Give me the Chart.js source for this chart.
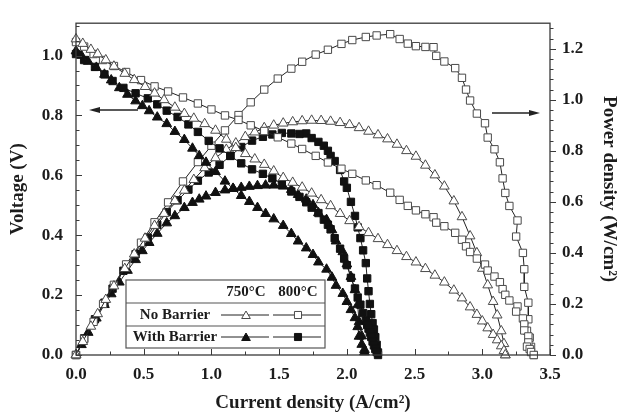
<!DOCTYPE html>
<html>
<head>
<meta charset="utf-8">
<title>Voltage and power density</title>
<script src="https://cdn.jsdelivr.net/npm/chart.js@4.4.0/dist/chart.umd.min.js"></script>
<style>
  html, body { margin: 0; padding: 0; background: #fff; }
  #wrap { width: 624px; height: 414px; }
</style>
</head>
<body>
<div id="wrap"><canvas id="chart" width="624" height="414"></canvas></div>
<script>
// Current density (A/cm2), voltage (V) and power density (W/cm2) per cell
const currentNB750 = [0, 0.05, 0.11, 0.16, 0.22, 0.28, 0.36, 0.43, 0.51, 0.58, 0.65, 0.73, 0.80, 0.87, 0.95, 1.03, 1.11, 1.18, 1.25, 1.32, 1.39, 1.46, 1.53, 1.60, 1.67, 1.74, 1.81, 1.88, 1.95, 2.02, 2.09, 2.16, 2.23, 2.30, 2.37, 2.44, 2.51, 2.58, 2.65, 2.72, 2.79, 2.85, 2.91, 2.96, 3.00, 3.04, 3.08, 3.11, 3.14, 3.16, 3.17];
const voltageNB750 = [1.055, 1.04, 1.02, 1.005, 0.985, 0.964, 0.94, 0.919, 0.896, 0.874, 0.852, 0.827, 0.806, 0.79, 0.772, 0.75, 0.72, 0.692, 0.672, 0.654, 0.636, 0.614, 0.592, 0.576, 0.56, 0.54, 0.518, 0.498, 0.472, 0.448, 0.428, 0.408, 0.388, 0.368, 0.348, 0.328, 0.31, 0.288, 0.266, 0.243, 0.216, 0.19, 0.16, 0.135, 0.113, 0.09, 0.068, 0.05, 0.03, 0.014, 0];
const powerNB750 = [0, 0.052, 0.112, 0.161, 0.217, 0.27, 0.338, 0.395, 0.457, 0.507, 0.554, 0.604, 0.645, 0.687, 0.733, 0.772, 0.805, 0.83, 0.855, 0.873, 0.89, 0.9, 0.908, 0.913, 0.917, 0.919, 0.918, 0.915, 0.91, 0.902, 0.89, 0.876, 0.862, 0.846, 0.825, 0.8, 0.778, 0.743, 0.705, 0.661, 0.603, 0.541, 0.466, 0.4, 0.339, 0.274, 0.209, 0.156, 0.094, 0.044, 0];

const currentNB800 = [0, 0.06, 0.13, 0.20, 0.28, 0.37, 0.48, 0.58, 0.68, 0.79, 0.90, 1.00, 1.10, 1.20, 1.29, 1.39, 1.49, 1.59, 1.67, 1.77, 1.86, 1.96, 2.04, 2.14, 2.22, 2.32, 2.39, 2.45, 2.51, 2.58, 2.64, 2.66, 2.72, 2.80, 2.85, 2.88, 2.91, 2.96, 3.02, 3.04, 3.09, 3.13, 3.15, 3.17, 3.20, 3.26, 3.25, 3.30, 3.31, 3.31, 3.34, 3.34, 3.33, 3.35, 3.36, 3.38];
const voltageNB800 = [1.045, 1.03, 1.005, 0.985, 0.965, 0.945, 0.918, 0.897, 0.88, 0.86, 0.84, 0.82, 0.80, 0.785, 0.767, 0.748, 0.727, 0.706, 0.688, 0.665, 0.643, 0.622, 0.605, 0.583, 0.567, 0.542, 0.518, 0.498, 0.483, 0.47, 0.46, 0.442, 0.43, 0.408, 0.385, 0.363, 0.344, 0.322, 0.302, 0.282, 0.262, 0.243, 0.22, 0.201, 0.182, 0.162, 0.145, 0.122, 0.102, 0.082, 0.062, 0.042, 0.028, 0.02, 0.01, 0];
const powerNB800 = [0, 0.062, 0.13, 0.2, 0.275, 0.355, 0.44, 0.52, 0.598, 0.68, 0.756, 0.82, 0.88, 0.94, 0.99, 1.04, 1.083, 1.122, 1.149, 1.177, 1.196, 1.219, 1.234, 1.246, 1.252, 1.257, 1.238, 1.22, 1.21, 1.207, 1.206, 1.172, 1.15, 1.124, 1.086, 1.04, 0.997, 0.946, 0.908, 0.852, 0.806, 0.755, 0.692, 0.635, 0.584, 0.527, 0.464, 0.40, 0.336, 0.267, 0.205, 0.14, 0.095, 0.068, 0.032, 0];

const currentWB750 = [0, 0.04, 0.09, 0.15, 0.21, 0.26, 0.32, 0.38, 0.44, 0.49, 0.54, 0.60, 0.67, 0.73, 0.80, 0.86, 0.91, 0.96, 1.03, 1.10, 1.16, 1.22, 1.28, 1.34, 1.40, 1.46, 1.53, 1.59, 1.64, 1.70, 1.75, 1.79, 1.85, 1.89, 1.92, 1.97, 2.00, 2.03, 2.06, 2.08, 2.09, 2.11, 2.13];
const voltageWB750 = [1.015, 1.0, 0.98, 0.96, 0.937, 0.918, 0.892, 0.87, 0.848, 0.832, 0.815, 0.794, 0.772, 0.746, 0.719, 0.69, 0.665, 0.643, 0.612, 0.58, 0.556, 0.532, 0.512, 0.492, 0.472, 0.454, 0.432, 0.405, 0.38, 0.357, 0.335, 0.31, 0.286, 0.259, 0.232, 0.205, 0.178, 0.151, 0.124, 0.094, 0.062, 0.035, 0.01];
const powerWB750 = [0, 0.04, 0.088, 0.144, 0.197, 0.239, 0.285, 0.331, 0.373, 0.408, 0.44, 0.476, 0.517, 0.545, 0.577, 0.597, 0.61, 0.622, 0.636, 0.646, 0.652, 0.656, 0.66, 0.663, 0.665, 0.665, 0.661, 0.648, 0.628, 0.61, 0.588, 0.557, 0.53, 0.49, 0.446, 0.404, 0.356, 0.307, 0.255, 0.196, 0.13, 0.074, 0.021];

const currentWB800 = [0, 0.06, 0.14, 0.21, 0.27, 0.35, 0.44, 0.53, 0.60, 0.67, 0.75, 0.83, 0.90, 0.98, 1.06, 1.14, 1.22, 1.30, 1.38, 1.45, 1.52, 1.59, 1.65, 1.70, 1.74, 1.79, 1.83, 1.86, 1.88, 1.91, 1.95, 1.98, 2.00, 2.03, 2.06, 2.08, 2.10, 2.12, 2.14, 2.15, 2.16, 2.17, 2.18, 2.19, 2.20, 2.21, 2.22, 2.23];
const voltageWB800 = [1.005, 0.985, 0.962, 0.937, 0.915, 0.892, 0.874, 0.857, 0.837, 0.816, 0.795, 0.77, 0.745, 0.715, 0.69, 0.665, 0.64, 0.62, 0.605, 0.59, 0.572, 0.546, 0.528, 0.51, 0.492, 0.474, 0.452, 0.435, 0.42, 0.39, 0.355, 0.322, 0.30, 0.258, 0.222, 0.192, 0.168, 0.14, 0.115, 0.10, 0.088, 0.075, 0.06, 0.045, 0.032, 0.02, 0.01, 0];
const powerWB800 = [0, 0.065, 0.14, 0.205, 0.26, 0.33, 0.395, 0.46, 0.51, 0.56, 0.606, 0.648, 0.683, 0.715, 0.745, 0.78, 0.815, 0.84, 0.855, 0.864, 0.87, 0.868, 0.866, 0.868, 0.85, 0.835, 0.82, 0.8, 0.78, 0.76, 0.725, 0.68, 0.655, 0.6, 0.545, 0.5, 0.458, 0.41, 0.36, 0.3, 0.25, 0.2, 0.16, 0.125, 0.1, 0.07, 0.04, 0.01];

// Tick labels
const currentTicks = [0, 0.5, 1.0, 1.5, 2.0, 2.5, 3.0, 3.5];
const voltageTicks = [0, 0.2, 0.4, 0.6, 0.8, 1.0];
const powerTicks = [0, 0.2, 0.4, 0.6, 0.8, 1.0, 1.2];

const legendRows = ['No Barrier', 'With Barrier'];
const legendCols = ['750°C', '800°C'];

const serif = "'Liberation Serif', 'Times New Roman', serif";
const ink = '#1c1c1c';
const tickFont = { family: serif, size: 17, weight: 'bold' };
const titleFont = { family: serif, size: 19, weight: 'bold' };

function pts(xs, ys) {
    return xs.map((x, i) => ({ x: x, y: ys[i] }));
}

function series(label, xs, ys, axis, shape, filled) {
    return {
        label: label,
        data: pts(xs, ys),
        yAxisID: axis,
        showLine: true,
        tension: 0,
        borderColor: '#222',
        borderWidth: 1,
        pointStyle: shape,
        pointRadius: shape === 'triangle' ? 5.6 : 5.2,
        pointBorderWidth: 1,
        pointBorderColor: filled ? '#111' : '#4a4a4a',
        pointBackgroundColor: filled ? '#111' : '#fff',
        clip: false
    };
}

function drawShape(ctx, shape, x, y, r, filled) {
    ctx.beginPath();
    if (shape === 'triangle') {
        ctx.moveTo(x, y - r);
        ctx.lineTo(x + r * 0.866, y + r / 2);
        ctx.lineTo(x - r * 0.866, y + r / 2);
        ctx.closePath();
    } else {
        const s = r * Math.SQRT1_2;
        ctx.rect(x - s, y - s, 2 * s, 2 * s);
    }
    ctx.fillStyle = filled ? '#111' : '#fff';
    ctx.fill();
    ctx.strokeStyle = filled ? '#111' : '#4a4a4a';
    ctx.lineWidth = 1;
    ctx.stroke();
}

function drawArrow(ctx, x1, x2, y) {
    const dir = Math.sign(x2 - x1);
    ctx.beginPath();
    ctx.moveTo(x1, y);
    ctx.lineTo(x2 - dir * 8, y);
    ctx.strokeStyle = '#222';
    ctx.lineWidth = 1.6;
    ctx.stroke();
    ctx.beginPath();
    ctx.moveTo(x2, y);
    ctx.lineTo(x2 - dir * 11, y - 3);
    ctx.lineTo(x2 - dir * 11, y + 3);
    ctx.closePath();
    ctx.fillStyle = '#222';
    ctx.fill();
}

const decorPlugin = {
    id: 'decor',
    afterDatasetsDraw(chart) {
        const ctx = chart.ctx;
        const a = chart.chartArea;
        const sx = chart.scales.x, sy = chart.scales.y, sp = chart.scales.y1;
        ctx.save();

        // frame
        ctx.strokeStyle = '#3a3a3a';
        ctx.lineWidth = 1.3;
        ctx.strokeRect(a.left, a.top, a.right - a.left, a.bottom - a.top);

        // tick marks: left and bottom point in, right points out
        ctx.lineWidth = 1;
        ctx.beginPath();
        for (let k = 0; k * 0.05 <= sy.max + 1e-9; k++) {
            const py = Math.round(sy.getPixelForValue(k * 0.05)) + 0.5;
            const len = k % 4 === 0 ? 6 : 3.5;
            ctx.moveTo(a.left, py);
            ctx.lineTo(a.left + len, py);
        }
        for (let k = 0; k * 0.04 <= sp.max + 1e-9; k++) {
            const py = Math.round(sp.getPixelForValue(k * 0.04)) + 0.5;
            const len = k % 5 === 0 ? 6 : 3.5;
            ctx.moveTo(a.right, py);
            ctx.lineTo(a.right + len, py);
        }
        for (let k = 0; k * 0.25 <= sx.max + 1e-9; k++) {
            const px = Math.round(sx.getPixelForValue(k * 0.25)) + 0.5;
            const len = k % 2 === 0 ? 6 : 3.5;
            ctx.moveTo(px, a.bottom);
            ctx.lineTo(px, a.bottom - len);
        }
        ctx.stroke();

        // arrows pointing at each axis
        drawArrow(ctx, 138, 89, 110);
        drawArrow(ctx, 492, 540, 113);

        // legend table
        const L = { left: 126, top: 280, right: 325, bottom: 348, row1: 303, row2: 326 };
        ctx.fillStyle = '#fff';
        ctx.fillRect(L.left, L.top, L.right - L.left, L.bottom - L.top);
        ctx.strokeStyle = '#555';
        ctx.lineWidth = 1.2;
        ctx.strokeRect(L.left, L.top, L.right - L.left, L.bottom - L.top);
        ctx.beginPath();
        ctx.moveTo(L.left, L.row1); ctx.lineTo(L.right, L.row1);
        ctx.moveTo(L.left, L.row2); ctx.lineTo(L.right, L.row2);
        ctx.stroke();

        ctx.font = 'bold 15px ' + serif;
        ctx.fillStyle = ink;
        ctx.textAlign = 'center';
        ctx.textBaseline = 'middle';
        const colX = [246, 298];
        ctx.fillText(legendCols[0], colX[0], 292);
        ctx.fillText(legendCols[1], colX[1], 292);
        const rowY = [315, 337];
        legendRows.forEach((name, r) => {
            ctx.fillStyle = ink;
            ctx.fillText(name, 175, rowY[r]);
            ['triangle', 'rect'].forEach((shape, c) => {
                const cx = colX[c];
                ctx.beginPath();
                ctx.moveTo(cx - 25, rowY[r]);
                ctx.lineTo(cx + 23, rowY[r]);
                ctx.strokeStyle = '#222';
                ctx.lineWidth = 1;
                ctx.stroke();
                drawShape(ctx, shape, cx, rowY[r] + (shape === 'triangle' ? 1 : 0), 5, r === 1);
            });
        });

        ctx.restore();
    }
};

const chart = new Chart(document.getElementById('chart'), {
    type: 'scatter',
    data: {
        datasets: [
            series('No Barrier 750°C voltage', currentNB750, voltageNB750, 'y', 'triangle', false),
            series('No Barrier 800°C voltage', currentNB800, voltageNB800, 'y', 'rect', false),
            series('With Barrier 750°C voltage', currentWB750, voltageWB750, 'y', 'triangle', true),
            series('With Barrier 800°C voltage', currentWB800, voltageWB800, 'y', 'rect', true),
            series('No Barrier 750°C power', currentNB750, powerNB750, 'y1', 'triangle', false),
            series('No Barrier 800°C power', currentNB800, powerNB800, 'y1', 'rect', false),
            series('With Barrier 750°C power', currentWB750, powerWB750, 'y1', 'triangle', true),
            series('With Barrier 800°C power', currentWB800, powerWB800, 'y1', 'rect', true)
        ]
    },
    options: {
        responsive: false,
        animation: false,
        devicePixelRatio: 1,
        layout: { padding: { top: 13, left: 0, right: 0, bottom: 0 } },
        plugins: {
            legend: { display: false },
            tooltip: { enabled: false }
        },
        scales: {
            x: {
                type: 'linear',
                min: 0,
                max: 3.5,
                afterBuildTicks: s => { s.ticks = currentTicks.map(v => ({ value: v })); },
                grid: { display: false, drawTicks: false },
                border: { display: false },
                ticks: { padding: 9, color: ink, font: tickFont, maxRotation: 0, autoSkip: false,
                         callback: v => v.toFixed(1) },
                title: { display: true, text: 'Current density (A/cm²)', color: ink, font: titleFont, padding: 0 },
                afterFit: s => { s.height = 59; }
            },
            y: {
                type: 'linear',
                position: 'left',
                min: 0,
                max: 1.108,
                afterBuildTicks: s => { s.ticks = voltageTicks.map(v => ({ value: v })); },
                grid: { display: false, drawTicks: false },
                border: { display: false },
                ticks: { padding: 13, color: ink, font: tickFont, callback: v => v.toFixed(1) },
                title: { display: true, text: 'Voltage (V)', color: ink, font: titleFont, padding: { top: 7 } },
                afterFit: s => { s.width = 76; }
            },
            y1: {
                type: 'linear',
                position: 'right',
                min: 0,
                max: 1.3,
                afterBuildTicks: s => { s.ticks = powerTicks.map(v => ({ value: v })); },
                grid: { display: false, drawTicks: false },
                border: { display: false },
                ticks: { padding: 12, color: ink, font: tickFont, callback: v => v.toFixed(1) },
                title: { display: true, text: 'Power density (W/cm²)', color: ink, font: titleFont, padding: { top: 4 } },
                afterFit: s => { s.width = 74; }
            }
        }
    },
    plugins: [decorPlugin]
});
</script>
</body>
</html>
